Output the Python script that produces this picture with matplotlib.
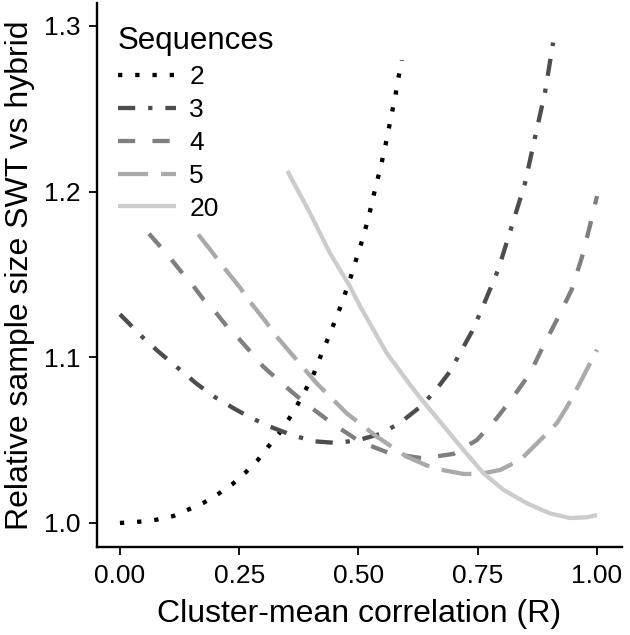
import matplotlib
matplotlib.use("Agg")
import matplotlib.pyplot as plt

plt.rcParams['font.family'] = ['Liberation Sans', 'DejaVu Sans']

# Relative sample size curves (R, ratio)
r_2 = [0.0, 0.042, 0.077, 0.112, 0.145, 0.176, 0.206, 0.236, 0.263, 0.288, 0.310,
       0.333, 0.354, 0.372, 0.390, 0.407, 0.419, 0.440, 0.460, 0.472, 0.484, 0.494,
       0.505, 0.515, 0.524, 0.532, 0.541, 0.549, 0.557, 0.564, 0.571, 0.578, 0.584, 0.591]
y_2 = [1.000, 1.0008, 1.002, 1.0042, 1.0083, 1.0123, 1.0175, 1.0235, 1.0304, 1.0376,
       1.0457, 1.0538, 1.0627, 1.0713, 1.0808, 1.0905, 1.0995, 1.114, 1.1288, 1.1385,
       1.1486, 1.158, 1.168, 1.178, 1.188, 1.198, 1.2085, 1.218, 1.2286, 1.2387,
       1.2488, 1.2589, 1.269, 1.2794]

r_3 = [0.0, 0.049, 0.080, 0.126, 0.161, 0.199, 0.238, 0.269, 0.314, 0.363, 0.407,
       0.454, 0.500, 0.547, 0.587, 0.629, 0.660, 0.692, 0.713, 0.737, 0.757, 0.793,
       0.818, 0.849, 0.870, 0.891, 0.908]
y_3 = [1.126, 1.1117, 1.1036, 1.0925, 1.084, 1.076, 1.0693, 1.0643, 1.0582, 1.0528,
       1.0493, 1.0483, 1.050, 1.0539, 1.0604, 1.070, 1.0794, 1.0915, 1.1026, 1.1151,
       1.128, 1.153, 1.176, 1.205, 1.2327, 1.2599, 1.290]

r_4 = [0.061, 0.087, 0.108, 0.133, 0.154, 0.175, 0.199, 0.224, 0.248, 0.276, 0.300,
       0.339, 0.388, 0.444, 0.503, 0.566, 0.636, 0.699, 0.748, 0.790, 0.825, 0.860,
       0.887, 0.916, 0.947, 0.968, 0.985, 1.0]
y_4 = [1.1746, 1.1661, 1.159, 1.150, 1.143, 1.135, 1.1278, 1.1187, 1.1117, 1.1026,
       1.0945, 1.0844, 1.0724, 1.0603, 1.0491, 1.042, 1.039, 1.0417, 1.050, 1.0633,
       1.0764, 1.0905, 1.1066, 1.1227, 1.1409, 1.160, 1.1792, 1.1973]

r_5 = [0.164, 0.192, 0.210, 0.252, 0.266, 0.308, 0.325, 0.367, 0.412, 0.426, 0.475,
       0.538, 0.601, 0.657, 0.720, 0.755, 0.797, 0.839, 0.881, 0.916, 0.937, 0.964, 1.0]
y_5 = [1.1742, 1.164, 1.157, 1.142, 1.136, 1.1207, 1.1137, 1.0996, 1.0844, 1.0804,
       1.0663, 1.0522, 1.040, 1.033, 1.0296, 1.0296, 1.032, 1.038, 1.050, 1.0603,
       1.070, 1.0844, 1.1046]

r_20 = [0.351, 0.398, 0.419, 0.440, 0.482, 0.503, 0.521, 0.559, 0.608, 0.629, 0.678,
        0.720, 0.762, 0.804, 0.853, 0.901, 0.943, 0.978, 1.0]
y_20 = [1.2125, 1.1873, 1.1752, 1.163, 1.1429, 1.131, 1.122, 1.1026, 1.0835, 1.0757,
        1.0587, 1.0441, 1.030, 1.020, 1.0119, 1.0058, 1.003, 1.0034, 1.0048]

labels = ["2", "3", "4", "5", "20"]
xticks = [0.0, 0.25, 0.5, 0.75, 1.0]
xtick_labels = ["0.00", "0.25", "0.50", "0.75", "1.00"]
yticks = [1.0, 1.1, 1.2, 1.3]
ytick_labels = ["1.0", "1.1", "1.2", "1.3"]

fig = plt.figure(figsize=(6.3, 6.35), dpi=100)
ax = fig.add_axes([0.154, 0.1386, 0.833, 0.857])

lw = 3.1
series = [
    (r_2, y_2, "#000000", (0, (1, 3))),
    (r_3, y_3, "#4d4d4d", (0, (4, 3, 1, 3))),
    (r_4, y_4, "#7f7f7f", (0, (4, 4))),
    (r_5, y_5, "#aaaaaa", (0, (7, 3))),
    (r_20, y_20, "#cccccc", "-"),
]
for (x, y, c, ls), lab in zip(series, labels):
    ax.plot(x, y, color=c, linestyle=ls, linewidth=lw, dash_capstyle="butt",
            solid_capstyle="butt", solid_joinstyle="round", label=lab)

ax.set_xlim(-0.048, 1.052)
ax.set_ylim(0.9855, 1.314)
ax.set_xticks(xticks)
ax.set_xticklabels(xtick_labels)
ax.set_yticks(yticks)
ax.set_yticklabels(ytick_labels)

for s in ["top", "right"]:
    ax.spines[s].set_visible(False)
for s in ["left", "bottom"]:
    ax.spines[s].set_linewidth(1.7)
ax.tick_params(axis="both", direction="out", length=6, width=1.3,
               labelsize=19, pad=6, colors="black")

ax.set_xlabel("Cluster-mean correlation (R)", fontsize=23, labelpad=8)
ax.set_ylabel("Relative sample size SWT vs hybrid", fontsize=23, labelpad=6)

leg = ax.legend(title="Sequences", loc="upper left", bbox_to_anchor=(0.02, 0.977),
                frameon=False, fontsize=19, title_fontsize=22.5,
                handlelength=2.2, handletextpad=0.5, labelspacing=0.34,
                borderaxespad=0, alignment="left")

fig.savefig("out.png", dpi=100)
